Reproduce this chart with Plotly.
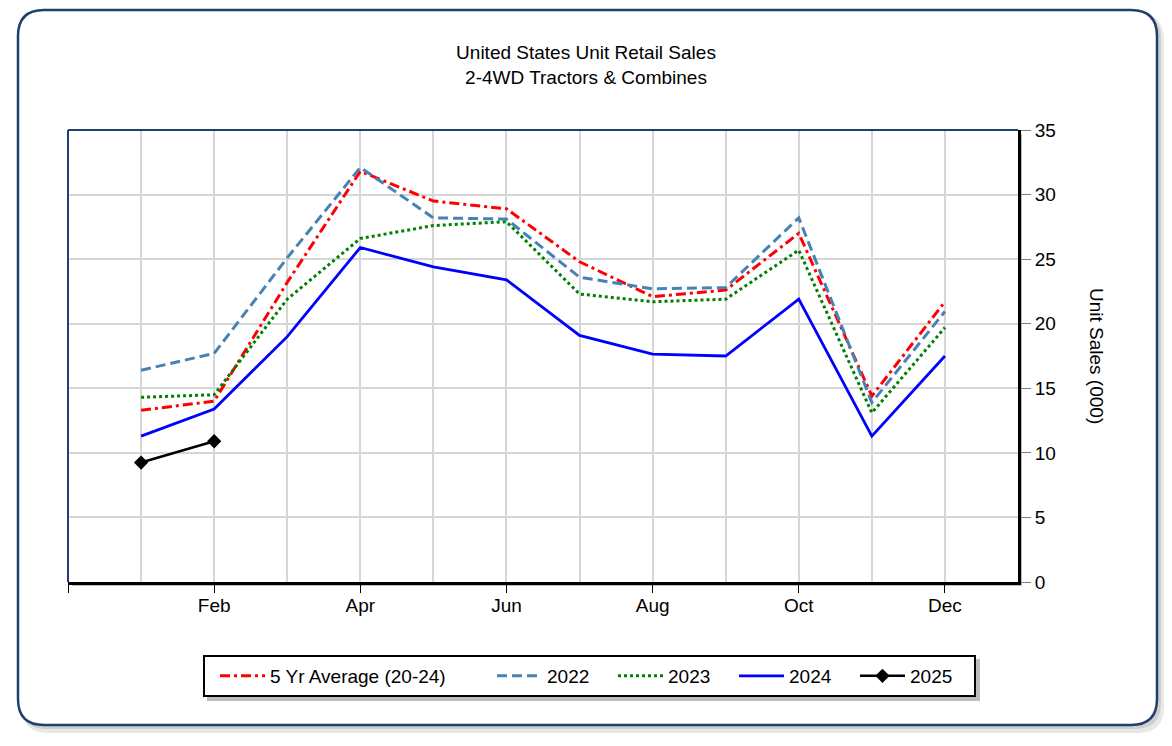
import plotly.graph_objects as go

months = ["Jan", "Feb", "Mar", "Apr", "May", "Jun", "Jul", "Aug", "Sep", "Oct", "Nov", "Dec"]
month_pos = list(range(1, 13))

avg_5yr = [13.3, 14.0, 23.2, 31.8, 29.5, 28.9, 24.8, 22.1, 22.6, 27.0, 14.4, 21.7]
y2022 = [16.4, 17.7, 25.1, 32.1, 28.2, 28.1, 23.6, 22.7, 22.8, 28.2, 13.9, 20.95]
y2023 = [14.3, 14.5, 21.9, 26.6, 27.6, 27.9, 22.3, 21.7, 21.9, 25.7, 13.1, 19.7]
y2024 = [11.3, 13.4, 19.0, 25.9, 24.4, 23.4, 19.1, 17.65, 17.5, 21.9, 11.3, 17.5]
y2025 = [9.25, 10.9]

tick_vals = [0, 2, 4, 6, 8, 10, 12]
tick_text = ["", "Feb", "Apr", "Jun", "Aug", "Oct", "Dec"]

FONT = "Liberation Sans, Arial, sans-serif"
FS = 19
W, H = 1172, 746
L, T, R, B = 68, 130, 1018, 582  # plot area in pixels


def px(X):
    return (X - L) / (R - L)


def py(Y):
    return (B - Y) / (B - T)


def rounded_path(x0, y0, x1, y1, r):
    return (
        f"M{px(x0 + r)},{py(y0)} L{px(x1 - r)},{py(y0)} "
        f"Q{px(x1)},{py(y0)} {px(x1)},{py(y0 + r)} "
        f"L{px(x1)},{py(y1 - r)} "
        f"Q{px(x1)},{py(y1)} {px(x1 - r)},{py(y1)} "
        f"L{px(x0 + r)},{py(y1)} "
        f"Q{px(x0)},{py(y1)} {px(x0)},{py(y1 - r)} "
        f"L{px(x0)},{py(y0 + r)} "
        f"Q{px(x0)},{py(y0)} {px(x0 + r)},{py(y0)} Z"
    )


fig = go.Figure()

fig.add_trace(go.Scatter(
    x=month_pos, y=avg_5yr, name="5 Yr Average (20-24)", mode="lines",
    line=dict(color="#FF0000", width=3, dash="10px,4px,3px,4px"), legendwidth=217))
fig.add_trace(go.Scatter(
    x=month_pos, y=y2022, name="2022", mode="lines",
    line=dict(color="#4682B4", width=3, dash="10px,5px"), legendwidth=61))
fig.add_trace(go.Scatter(
    x=month_pos, y=y2023, name="2023", mode="lines",
    line=dict(color="#008000", width=3, dash="3px,3px"), legendwidth=61))
fig.add_trace(go.Scatter(
    x=month_pos, y=y2024, name="2024", mode="lines",
    line=dict(color="#0000FF", width=2.8), legendwidth=61))
fig.add_trace(go.Scatter(
    x=month_pos[:len(y2025)], y=y2025, name="2025", mode="lines+markers",
    line=dict(color="#000000", width=2.5),
    marker=dict(symbol="diamond", size=11, color="#000000"), legendwidth=61))

shapes = []
# outer frame shadow + frame
shapes.append(dict(type="path", xref="paper", yref="paper", layer="below",
                   path=rounded_path(22, 14, 1164, 733, 26),
                   fillcolor="#e8e8e8", line=dict(width=0)))
shapes.append(dict(type="path", xref="paper", yref="paper", layer="below",
                   path=rounded_path(20, 12, 1161, 729, 26),
                   fillcolor="#cfcfcf", line=dict(width=0)))
shapes.append(dict(type="path", xref="paper", yref="paper", layer="below",
                   path=rounded_path(18, 10, 1157, 725, 26),
                   fillcolor="#ffffff", line=dict(color="#1F3F6E", width=2.5)))
# plot area shadow
shapes.append(dict(type="rect", xref="paper", yref="paper", layer="below",
                   x0=px(L + 4), x1=px(R + 4), y0=py(B + 4), y1=py(T + 4),
                   fillcolor="#bdbdbd", line=dict(width=0)))
shapes.append(dict(type="rect", xref="paper", yref="paper", layer="below",
                   x0=0, x1=1, y0=0, y1=1,
                   fillcolor="#ffffff", line=dict(width=0)))
# plot area frame (navy left/top)
shapes.append(dict(type="line", xref="paper", yref="paper", layer="above",
                   x0=0, x1=0, y0=0, y1=1, line=dict(color="#1F3F6E", width=2)))
shapes.append(dict(type="line", xref="paper", yref="paper", layer="above",
                   x0=0, x1=1, y0=1, y1=1, line=dict(color="#1F3F6E", width=2)))
# legend box shadow + box
shapes.append(dict(type="rect", xref="paper", yref="paper", layer="below",
                   x0=px(207), x1=px(980), y0=py(701), y1=py(659),
                   fillcolor="#bdbdbd", line=dict(width=0)))
shapes.append(dict(type="rect", xref="paper", yref="paper", layer="below",
                   x0=px(204), x1=px(975), y0=py(696), y1=py(656),
                   fillcolor="#ffffff", line=dict(color="#000000", width=2)))

fig.update_layout(
    width=W, height=H,
    margin=dict(l=L, r=W - R, t=T, b=H - B),
    paper_bgcolor="#ffffff", plot_bgcolor="#ffffff",
    font=dict(family=FONT, size=FS, color="#000000"),
    title=dict(text="United States Unit Retail Sales<br>2-4WD Tractors & Combines",
               x=0.5, xref="container", xanchor="center",
               y=1 - 59 / H, yref="container", yanchor="top",
               font=dict(family=FONT, size=FS, color="#000000")),
    xaxis=dict(range=[0, 13], tickvals=tick_vals, ticktext=tick_text,
               showgrid=True, gridcolor="#d6d6d6", gridwidth=2,
               minor=dict(dtick=1, tick0=0, showgrid=True, gridcolor="#d6d6d6", gridwidth=2, ticks=""),
               ticks="outside", ticklen=8, tickcolor="#000000", tickwidth=1,
               ticklabelstandoff=-4,
               showline=True, linecolor="#000000", linewidth=3,
               zeroline=False, fixedrange=True,
               tickfont=dict(family=FONT, size=FS)),
    yaxis=dict(range=[0, 35], dtick=5, side="right",
               showgrid=True, gridcolor="#d6d6d6", gridwidth=2,
               ticks="outside", ticklen=10, tickcolor="#808080", tickwidth=1,
               showline=True, linecolor="#000000", linewidth=3,
               zeroline=False, fixedrange=True,
               tickfont=dict(family=FONT, size=FS)),
    legend=dict(orientation="h", x=px(215), xanchor="left", y=py(657), yanchor="top",
                borderwidth=0, bgcolor="rgba(0,0,0,0)",
                itemwidth=45, font=dict(family=FONT, size=FS), traceorder="normal"),
    shapes=shapes,
    annotations=[dict(text="Unit Sales (000)", xref="paper", yref="paper",
                      x=px(1097), y=py(356), textangle=90, showarrow=False,
                      xanchor="center", yanchor="middle",
                      font=dict(family=FONT, size=FS, color="#000000"))],
    showlegend=True,
)

fig.write_html("out.html", config={"displayModeBar": False},
               post_script="document.body.style.margin='0';document.body.style.padding='0';")
